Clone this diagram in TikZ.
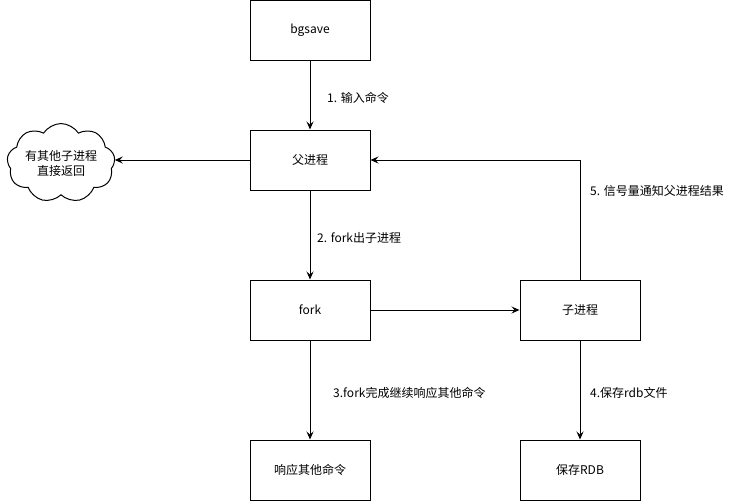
\documentclass[tikz,border=0pt]{standalone}
\usepackage{fontspec}
\setmainfont{Noto Sans CJK SC}
\usetikzlibrary{arrows.meta,shapes.symbols}
\begin{document}
\begin{tikzpicture}[x=1pt,y=-1pt,font=\fontsize{12}{15}\selectfont,
  box/.style={draw,rectangle,minimum width=120pt,minimum height=60pt,inner sep=0pt,line width=1pt},
  link/.style={-{Stealth[length=8pt,width=7pt,inset=3pt]},line width=1pt},
  tag/.style={anchor=west,inner sep=0pt}]
\useasboundingbox (0,0) rectangle (738,501);
% boxes
\node [box] (bgsave) at (310,30) {bgsave};
\node [box] (parent) at (310,160) {父进程};
\node [box] (fork) at (310,310) {fork};
\node [box] (reply) at (310,470) {响应其他命令};
\node [box] (child) at (580,310) {子进程};
\node [box] (rdb) at (580,470) {保存RDB};
\node [draw,cloud,cloud puffs=9,cloud puff arc=115,aspect=1.6,line width=1pt,
  minimum width=108pt,minimum height=68pt,inner sep=0pt,align=center]
  (busy) at (61,163) {有其他子进程\\直接返回};
% labels
\node [tag] (l1) at (327,98) {1. 输入命令};
\node [tag] (l2) at (317,238) {2. fork出子进程};
\node [tag] (l3) at (333,393) {3.fork完成继续响应其他命令};
\node [tag] (l4) at (590,393) {4.保存rdb文件};
\node [tag] (l5) at (590,191) {5. 信号量通知父进程结果};
% connectors
\draw [link] (bgsave) -- (parent);
\draw [link] (parent.west) -- (busy.east |- parent.west);
\draw [link] (parent) -- (fork);
\draw [link] (fork) -- (child);
\draw [link] (fork) -- (reply);
\draw [link] (child) -- (rdb);
\draw [link] (child.north) |- (parent.east);
\end{tikzpicture}
\end{document}
